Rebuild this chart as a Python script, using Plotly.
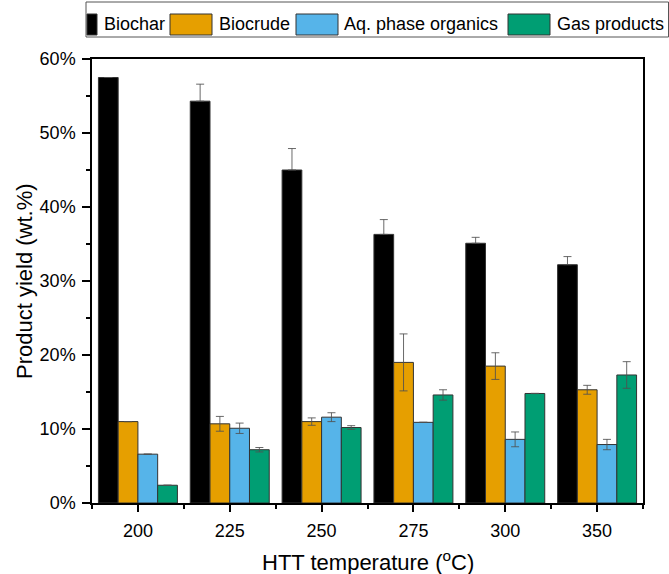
import plotly.graph_objects as go

# ---- data ----
categories = ["200", "225", "250", "275", "300", "350"]
series_names = ["Biochar", "Biocrude", "Aq. phase organics", "Gas products"]
biochar = [57.5, 54.3, 45.0, 36.3, 35.1, 32.2]
biocrude = [11.0, 10.7, 11.0, 19.0, 18.5, 15.3]
aq_phase = [6.6, 10.1, 11.6, 10.9, 8.6, 7.9]
gas = [2.4, 7.2, 10.2, 14.6, 14.8, 17.3]
biochar_err = [None, 2.3, 2.9, 2.0, 0.8, 1.1]
biocrude_err = [None, 1.0, 0.5, 3.85, 1.8, 0.6]
aq_phase_err = [None, 0.7, 0.6, None, 1.0, 0.7]
gas_err = [None, 0.3, 0.25, 0.7, 0.02, 1.8]
y_ticks = [0, 10, 20, 30, 40, 50, 60]

colors = ["#000000", "#E69F00", "#56B4E9", "#009E73"]
values = [biochar, biocrude, aq_phase, gas]
errors = [biochar_err, biocrude_err, aq_phase_err, gas_err]

FONT = "Liberation Sans, Arial, sans-serif"
W, H = 669, 574
L, R, T, B = 92, 26, 59, 71
PW, PH = W - L - R, H - T - B

def px(x):
    return (x - L) / PW

def py(y):
    return (H - B - y) / PH

xpos = list(range(len(categories)))

fig = go.Figure()
for i, (name, vals, err, col) in enumerate(zip(series_names, values, errors, colors)):
    ey = dict(type="data", array=err, visible=True, color="rgba(80,80,80,0.85)",
              thickness=1, width=4)
    if i == 0:
        ey["symmetric"] = False
        ey["arrayminus"] = [None if e is None else 0 for e in err]
    fig.add_trace(go.Bar(
        x=xpos, y=vals, name=name,
        marker=dict(color=col, line=dict(color="#333333", width=1)),
        error_y=ey, showlegend=False,
    ))

# ---- manual legend (swatches + labels), built from the series lists ----
shapes = []
annotations = []
shapes.append(dict(type="rect", xref="paper", yref="paper",
                   x0=px(86), x1=px(668.5), y0=py(37), y1=py(2),
                   line=dict(color="#555555", width=1), fillcolor="white", layer="above"))
sw_x = [(87, 97), (170, 212), (296, 338), (508, 550)]
txt_x = [102, 216.5, 341.5, 555]
for (x0, x1), tx, name, col in zip(sw_x, txt_x, series_names, colors):
    shapes.append(dict(type="rect", xref="paper", yref="paper",
                       x0=px(x0), x1=px(x1), y0=py(35), y1=py(14),
                       line=dict(color="#333333", width=1), fillcolor=col, layer="above"))
    annotations.append(dict(xref="paper", yref="paper", x=px(tx), y=py(24),
                            xanchor="left", yanchor="middle", showarrow=False,
                            text=name, font=dict(family=FONT, size=18, color="black")))

# axis titles
annotations.append(dict(xref="paper", yref="paper", x=px(24), y=0.5,
                        xanchor="center", yanchor="middle", textangle=-90, showarrow=False,
                        text="Product yield (wt.%)", font=dict(family=FONT, size=22, color="black")))
annotations.append(dict(xref="paper", yref="paper", x=0.5, y=py(561),
                        xanchor="center", yanchor="middle", showarrow=False,
                        text="HTT temperature (<sup>o</sup>C)", font=dict(family=FONT, size=22, color="black")))

fig.update_layout(
    width=W, height=H,
    margin=dict(l=L, r=R, t=T, b=B, pad=0),
    paper_bgcolor="white", plot_bgcolor="white",
    barmode="group", bargap=0.14, bargroupgap=0,
    font=dict(family=FONT, size=18, color="black"),
    shapes=shapes, annotations=annotations,
    showlegend=False,
)
fig.update_xaxes(
    range=[-0.5, len(categories) - 0.5],
    tickmode="array", tickvals=xpos, ticktext=categories,
    ticks="outside", ticklen=7, tickwidth=1.5, tickcolor="black",
    ticklabelstandoff=4,
    showline=True, linecolor="black", linewidth=1.5, mirror=True,
    showgrid=False, zeroline=False,
    tickfont=dict(family=FONT, size=18, color="black"),
    minor=dict(tickmode="linear", tick0=-0.5, dtick=1, ticks="outside", ticklen=4,
               tickwidth=1.5, tickcolor="black", showgrid=False),
)
fig.update_yaxes(
    range=[0, 60],
    tickmode="array", tickvals=y_ticks, ticktext=[f"{v}%" for v in y_ticks],
    ticks="outside", ticklen=8, tickwidth=1.5, tickcolor="black",
    ticklabelstandoff=3,
    showline=True, linecolor="black", linewidth=1.5, mirror=True,
    showgrid=False, zeroline=False,
    tickfont=dict(family=FONT, size=18, color="black"),
    minor=dict(tickmode="linear", tick0=0, dtick=5, ticks="outside", ticklen=4,
               tickwidth=1.5, tickcolor="black", showgrid=False),
)

fig.write_html("out.html")
